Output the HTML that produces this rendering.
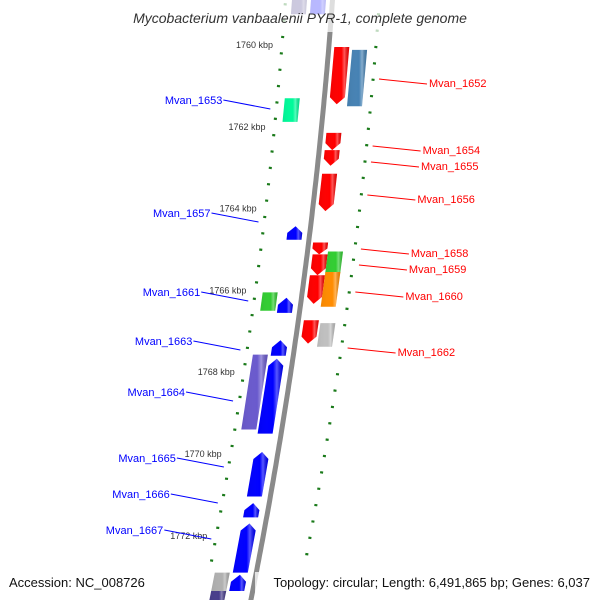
<!DOCTYPE html>
<html><head><meta charset="utf-8"><style>
body{margin:0;background:#fff}
svg{display:block;font-family:"Liberation Sans","DejaVu Sans",sans-serif}
</style></head><body>
<svg id="map" width="600" height="600" viewBox="0 0 600 600" xmlns="http://www.w3.org/2000/svg">
<defs>
<linearGradient id="shade" x1="0" x2="1" y1="0" y2="0">
<stop offset="0" stop-color="#000" stop-opacity="0.05"/>
<stop offset="0.6" stop-color="#fff" stop-opacity="0"/>
<stop offset="0.75" stop-color="#fff" stop-opacity="0.35"/>
<stop offset="1" stop-color="#000" stop-opacity="0.1"/>
</linearGradient>
</defs>
<g id="ticks"></g>
<path id="backbone" fill="none" stroke="#8a8a8a" stroke-width="5"/>
<g id="feats"></g>
<g id="labels"></g>
<rect x="110" y="0" width="380" height="32" fill="#fff" opacity="0.72"/>
<text x="300" y="23" text-anchor="middle" font-size="14" font-style="italic" fill="#333">Mycobacterium vanbaalenii PYR-1, complete genome</text>
<rect x="255" y="572" width="340" height="20" fill="#fff" opacity="0.75"/>
<text x="9" y="587" font-size="13" fill="#111">Accession: NC_008726</text>
<text x="590" y="587" font-size="13" fill="#111" text-anchor="end">Topology: circular; Length: 6,491,865 bp; Genes: 6,037</text>
</svg>
<script>
// scale data (kbp)
const majorTicks = [1760,1762,1764,1766,1768,1770,1772];
const tickLabels = ["1760 kbp","1762 kbp","1764 kbp","1766 kbp","1768 kbp","1770 kbp","1772 kbp"];
// features: start kbp, end kbp, track offset, strand (1 up / -1 down / 0 none), color
const featStart = [1758.60,1758.60,1760.05,1760.12,1761.30,1762.15,1762.57,1763.15,1764.43,1764.83,1765.12,1765.63,1765.05,1765.55,1766.05,1766.18,1766.73,1766.80,1767.22,1767.57,1767.67,1769.95,1771.20,1771.70,1772.9,1772.95,1773.35];
const featEnd   = [1759.25,1759.25,1761.45,1761.50,1761.88,1762.57,1762.95,1764.06,1764.76,1765.12,1765.63,1766.33,1765.58,1766.40,1766.50,1766.55,1767.30,1767.38,1767.60,1769.40,1769.50,1771.04,1771.55,1772.90,1773.4,1773.35,1773.7];
const featTrack = [-33,-14,13,31,-32,13,13,13,-15,12,13,13,28,28,-32,-15,13,30,-15,-33,-16,-16,-16,-16,-34,-16,-34];
const featStrand= [0,0,-1,0,0,-1,-1,-1,1,-1,-1,-1,0,0,0,1,-1,0,1,0,1,1,1,1,0,1,0];
const featColor = ["#483d8b","#0000ff","#ff0000","#4682b4","#00fa9a","#ff0000","#ff0000","#ff0000","#0000ff","#ff0000","#ff0000","#ff0000","#32cd32","#ff8c00","#32cd32","#0000ff","#ff0000","#c0c0c0","#0000ff","#6a5acd","#0000ff","#0000ff","#0000ff","#0000ff","#b0b0b0","#0000ff","#483d8b"];
// labels
const geneNames = ["Mvan_1652","Mvan_1653","Mvan_1654","Mvan_1655","Mvan_1656","Mvan_1657","Mvan_1658","Mvan_1659","Mvan_1660","Mvan_1661","Mvan_1662","Mvan_1663","Mvan_1664","Mvan_1665","Mvan_1666","Mvan_1667"];
const geneSide  = [1,-1,1,1,1,-1,1,1,1,-1,1,-1,-1,-1,-1,-1];
const geneKbp   = [1760.85,1761.55,1762.47,1762.85,1763.65,1764.25,1764.97,1765.35,1766.02,1766.22,1767.37,1767.57,1768.75,1770.12,1770.98,1771.86];
const geneLabelY= [83,100,150,166,199,213,253,269,296,292,352,341,392,458,494,530];

const NS="http://www.w3.org/2000/svg";
const Y=k=>45+(k-1760)*40.9;
const BX=y=>332.5-0.073*y-0.000105*y*y;
function mk(tag,attrs,parent){const e=document.createElementNS(NS,tag);for(const a in attrs)e.setAttribute(a,attrs[a]);parent.appendChild(e);return e;}
let d="";for(let y=-5;y<=605;y+=5){d+=(y===-5?"M":"L")+BX(y).toFixed(1)+","+y;}
document.getElementById("backbone").setAttribute("d",d);
const tg=document.getElementById("ticks");
for(let i=0;i<=40;i++){
  const k=1759+i*0.4;const y=Y(k);if(y<-5||y>565)continue;
  const major=majorTicks.some(m=>Math.abs(m-k)<0.01);
  const x=BX(y)-47;const len=major?4:1.5;
  const t=mk("line",{x1:x-len,y1:y,x2:x+len,y2:y+0.4,stroke:"#1a7a1a","stroke-width":2.2},tg);
  
  
  const k2=k+0.245,y2=Y(k2);
  if(y2>-5&&y2<565){const x2=BX(y2)+47;const maj2=Math.abs(((k2-1760.245)/2)-Math.round((k2-1760.245)/2))<0.01;const l2=maj2?4:1.5;
  const t2=mk("line",{x1:x2-l2,y1:y2,x2:x2+l2,y2:y2+0.4,stroke:"#1a7a1a","stroke-width":2.2},tg);
  
  }
}
majorTicks.forEach((m,i)=>{const y=Y(m);const x=BX(y)-56;
  const t=mk("text",{x:x,y:y+3,"font-size":9,fill:"#333","text-anchor":"end"},tg);t.textContent=tickLabels[i];
  
  });
const fg=document.getElementById("feats");
for(let i=0;i<featStart.length;i++){
  const y1=Y(featStart[i]),y2=Y(featEnd[i]);const w=7.5;const off=featTrack[i];
  const c1=BX(y1)+off,c2=BX(y2)+off;const ah=Math.min(7,(y2-y1)*0.5);
  let pts;
  if(featStrand[i]>0){const ya=y1+ah,ca=BX(ya)+off;
    pts=[[c1,y1],[ca+w,ya],[c2+w,y2],[c2-w,y2],[ca-w,ya]];}
  else if(featStrand[i]<0){const ya=y2-ah,ca=BX(ya)+off;
    pts=[[c1-w,y1],[c1+w,y1],[ca+w,ya],[c2,y2],[ca-w,ya]];}
  else{pts=[[c1-w,y1],[c1+w,y1],[c2+w,y2],[c2-w,y2]];}
  const p=pts.map(q=>q[0].toFixed(1)+","+q[1].toFixed(1)).join(" ");
  const g=mk("g",{},fg);
  
  
  mk("polygon",{points:p,fill:featColor[i]},g);
  mk("polygon",{points:p,fill:"url(#shade)"},g);
}
const lg=document.getElementById("labels");
geneNames.forEach((n,i)=>{
  const y=Y(geneKbp[i]);const ly=geneLabelY[i];const col=geneSide[i]>0?"#ff0000":"#0000ff";
  let x0,tx,anchor;
  if(geneSide[i]>0){x0=BX(y)+53;tx=x0+50;anchor="start";
    mk("line",{x1:x0,y1:ly-4,x2:tx-2,y2:ly+1,stroke:col,"stroke-width":1},lg);}
  else{x0=BX(y)-53;tx=x0-48;anchor="end";
    mk("line",{x1:tx+1,y1:ly,x2:x0,y2:ly+9,stroke:col,"stroke-width":1},lg);}
  const t=mk("text",{x:tx,y:ly+4,"font-size":11,fill:col,"text-anchor":anchor},lg);t.textContent=n;
  
  
});
</script>
</body></html>
